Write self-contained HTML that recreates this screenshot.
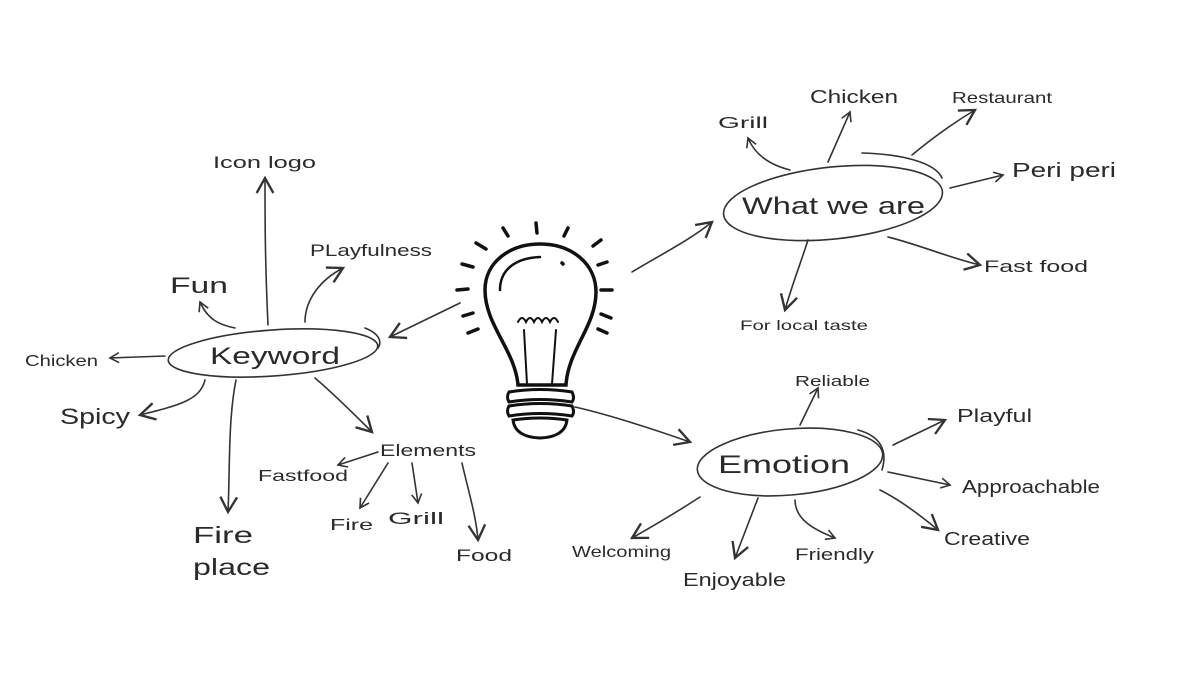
<!DOCTYPE html>
<html><head><meta charset="utf-8"><style>
html,body{margin:0;padding:0;background:#fff;}
svg{display:block}
text{font-family:"Liberation Sans",sans-serif;fill:#2a2a2a;}
</style></head><body>
<svg width="1200" height="675" viewBox="0 0 1200 675" xmlns="http://www.w3.org/2000/svg">
<defs>
<marker id="a" viewBox="0 0 12 12" refX="10" refY="6" markerWidth="12" markerHeight="12" markerUnits="userSpaceOnUse" orient="auto">
<path d="M1,1 L10,6 L1,11" fill="none" stroke="#333" stroke-width="1.6"/>
</marker>
<marker id="b" viewBox="0 0 12 12" refX="10" refY="6" markerWidth="20" markerHeight="20" markerUnits="userSpaceOnUse" orient="auto">
<path d="M1,1 L10,6 L1,11" fill="none" stroke="#333" stroke-width="1.4"/>
</marker>
</defs>
<g fill="none" stroke="#333" stroke-width="1.6" stroke-linecap="round">
<!-- bulb -->
<g stroke="#111" stroke-width="3.5">
<path d="M518,385 C515,350 485,325 485,290 C485,262 510,244 540,244 C572,244 596,264 596,292 C596,326 568,350 566,385 Z"/>
<path d="M500,290 C500,270 515,258 540,257" stroke-width="2.5"/>
<path d="M509,392 Q540,387 572,392 Q575,398 572,402 Q540,397 509,402 Q506,397 509,392Z" stroke-width="3"/>
<path d="M509,406 Q540,401 572,406 Q575,412 572,416 Q540,411 509,416 Q506,411 509,406Z" stroke-width="3"/>
<path d="M513,420 Q540,416 567,420 Q565,437 540,438 Q515,437 513,420Z" stroke-width="3"/>
<path d="M527,384 L524,330 M552,384 L556,330" stroke-width="2"/>
<path d="M518,322 q4,-8 8,0 q4,-8 8,0 q4,-8 8,0 q4,-8 8,0 q4,-8 8,0" stroke-width="2"/>
<path d="M536,223 l1,10 M503,228 l5,8 M568,228 l-4,8 M476,243 l10,6 M601,240 l-8,6 M462,264 l11,3 M607,262 l-9,3 M457,290 l11,-1 M612,290 l-11,0 M463,316 l10,-3 M611,318 l-10,-4 M468,333 l10,-4 M607,333 l-9,-4 M562,263 l1,1"/>
</g>
<!-- ellipses -->
<ellipse cx="273" cy="353" rx="105" ry="23" transform="rotate(-4 273 353)"/>
<path d="M365,328 C380,334 382,342 378,348"/>
<ellipse cx="833" cy="203" rx="110" ry="36" transform="rotate(-6 833 203)"/>
<path d="M862,153 C900,154 935,162 942,178"/>
<ellipse cx="790" cy="462" rx="93" ry="33" transform="rotate(-5 790 462)"/>
<path d="M858,430 C880,436 888,450 882,470"/>
<!-- left -->
<path d="M460,303 L390,337" marker-end="url(#b)"/>
<path d="M268,325 C265,260 265,220 265,178" marker-end="url(#b)"/>
<path d="M305,322 C305,300 320,280 343,268" marker-end="url(#b)"/>
<path d="M235,328 C220,325 208,320 200,302" marker-end="url(#a)"/>
<path d="M165,356 L110,358" marker-end="url(#a)"/>
<path d="M205,380 C200,400 180,405 140,415" marker-end="url(#b)"/>
<path d="M236,380 C228,420 230,470 228,512" marker-end="url(#b)"/>
<path d="M315,378 C335,395 355,415 372,432" marker-end="url(#b)"/>
<path d="M378,452 L338,465" marker-end="url(#a)"/>
<path d="M388,463 L360,508" marker-end="url(#a)"/>
<path d="M412,463 L418,503" marker-end="url(#a)"/>
<path d="M462,463 C468,490 476,515 478,540" marker-end="url(#b)"/>
<!-- right top -->
<path d="M632,272 C660,255 690,240 712,222" marker-end="url(#b)"/>
<path d="M790,170 C770,165 755,155 748,138" marker-end="url(#a)"/>
<path d="M828,162 L850,112" marker-end="url(#a)"/>
<path d="M912,155 C930,140 950,125 975,110" marker-end="url(#b)"/>
<path d="M950,188 L1003,175" marker-end="url(#a)"/>
<path d="M888,237 C920,245 950,258 980,265" marker-end="url(#b)"/>
<path d="M808,240 C800,265 792,285 785,310" marker-end="url(#b)"/>
<!-- right bottom -->
<path d="M575,407 C610,415 650,428 690,442" marker-end="url(#b)"/>
<path d="M800,425 L818,388" marker-end="url(#a)"/>
<path d="M893,445 L945,420" marker-end="url(#b)"/>
<path d="M888,472 L950,485" marker-end="url(#a)"/>
<path d="M880,490 C900,500 920,515 938,530" marker-end="url(#b)"/>
<path d="M795,500 C795,520 815,530 835,538" marker-end="url(#a)"/>
<path d="M758,498 L735,558" marker-end="url(#b)"/>
<path d="M700,497 C680,510 655,525 632,538" marker-end="url(#b)"/>
</g>
<!-- labels -->
<g lengthAdjust="spacingAndGlyphs">
<text x="210" y="364" font-size="24" textLength="130" lengthAdjust="spacingAndGlyphs">Keyword</text>
<text x="213" y="168" font-size="17" textLength="103" lengthAdjust="spacingAndGlyphs">Icon logo</text>
<text x="310" y="256" font-size="17" textLength="122" lengthAdjust="spacingAndGlyphs">PLayfulness</text>
<text x="170" y="293" font-size="22" textLength="58" lengthAdjust="spacingAndGlyphs">Fun</text>
<text x="25" y="366" font-size="16" textLength="73" lengthAdjust="spacingAndGlyphs">Chicken</text>
<text x="60" y="424" font-size="22" textLength="70" lengthAdjust="spacingAndGlyphs">Spicy</text>
<text x="193" y="543" font-size="23" textLength="60" lengthAdjust="spacingAndGlyphs">Fire</text>
<text x="193" y="575" font-size="23" textLength="77" lengthAdjust="spacingAndGlyphs">place</text>
<text x="380" y="456" font-size="17" textLength="96" lengthAdjust="spacingAndGlyphs">Elements</text>
<text x="258" y="481" font-size="16" textLength="90" lengthAdjust="spacingAndGlyphs">Fastfood</text>
<text x="330" y="530" font-size="16" textLength="43" lengthAdjust="spacingAndGlyphs">Fire</text>
<text x="388" y="524" font-size="17" textLength="56" lengthAdjust="spacingAndGlyphs">Grill</text>
<text x="456" y="561" font-size="17" textLength="56" lengthAdjust="spacingAndGlyphs">Food</text>
<text x="742" y="214" font-size="24" textLength="183" lengthAdjust="spacingAndGlyphs">What we are</text>
<text x="718" y="128" font-size="16" textLength="50" lengthAdjust="spacingAndGlyphs">Grill</text>
<text x="810" y="103" font-size="18" textLength="88" lengthAdjust="spacingAndGlyphs">Chicken</text>
<text x="952" y="103" font-size="16" textLength="100" lengthAdjust="spacingAndGlyphs">Restaurant</text>
<text x="1012" y="177" font-size="20" textLength="104" lengthAdjust="spacingAndGlyphs">Peri peri</text>
<text x="984" y="272" font-size="17" textLength="104" lengthAdjust="spacingAndGlyphs">Fast food</text>
<text x="740" y="330" font-size="14" textLength="128" lengthAdjust="spacingAndGlyphs">For local taste</text>
<text x="718" y="473" font-size="25" textLength="132" lengthAdjust="spacingAndGlyphs">Emotion</text>
<text x="795" y="386" font-size="15" textLength="75" lengthAdjust="spacingAndGlyphs">Reliable</text>
<text x="957" y="422" font-size="18" textLength="75" lengthAdjust="spacingAndGlyphs">Playful</text>
<text x="962" y="493" font-size="18" textLength="138" lengthAdjust="spacingAndGlyphs">Approachable</text>
<text x="944" y="545" font-size="18" textLength="86" lengthAdjust="spacingAndGlyphs">Creative</text>
<text x="795" y="560" font-size="17" textLength="79" lengthAdjust="spacingAndGlyphs">Friendly</text>
<text x="683" y="586" font-size="18" textLength="103" lengthAdjust="spacingAndGlyphs">Enjoyable</text>
<text x="572" y="557" font-size="16" textLength="99" lengthAdjust="spacingAndGlyphs">Welcoming</text>
</g>
</svg>
</body></html>
